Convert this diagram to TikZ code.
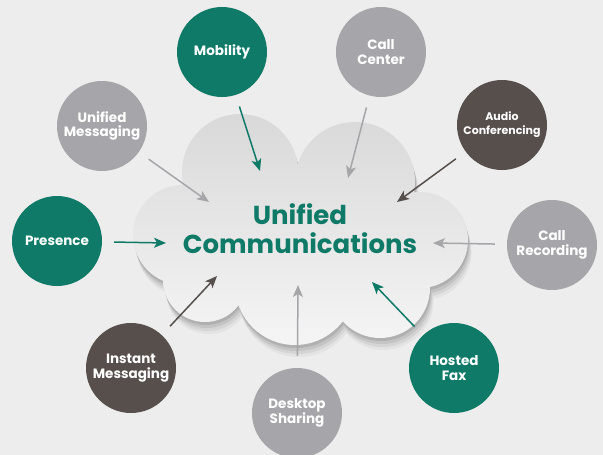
\documentclass[tikz,border=0pt]{standalone}
\usepackage{fontspec}
\setmainfont{Poppins}
\usetikzlibrary{arrows.meta}

\definecolor{ucteal}{HTML}{0E7A67}
\definecolor{ucgray}{HTML}{A6A5A9}
\definecolor{ucbrown}{HTML}{574F4B}
\definecolor{paper}{HTML}{EDEDED}

% outline of the cloud (union of lobes)
\newcommand\cloudpath{%
  (240,172) circle (58) (355,182) circle (60)
  (183,235) circle (50) (420,240) circle (48)
  (205,280) circle (42) (295,285) circle (60)
  (380,288) circle (50) (300,235) ellipse (130 and 65)}

\begin{document}
\begin{tikzpicture}[
    x=1pt, y=-1pt,
    topic/.style={circle, minimum size=90pt, inner sep=0pt, align=center, text=white,
      font=\bfseries\fontsize{13.5}{14.5}\selectfont},
    small/.style={font=\bfseries\fontsize{11}{14}\selectfont},
    link/.style={line width=1.5pt, -{Stealth[length=12pt, width=10pt, inset=3pt]}, shorten <=12pt}
  ]
    \useasboundingbox (0,0) rectangle (603,455);
    \clip (0,0) rectangle (603,455);

    % paper background
    \fill[paper] (0,0) rectangle (603,455);

    % cloud: soft shadow, then the cloud itself
    \foreach \s/\o in {12/0.04, 9/0.06, 6/0.08, 3/0.1} {
      \fill[black, opacity=\o, shift={(\s*0.3,\s)}] \cloudpath;
    }
    \shade[top color=gray!30, bottom color=gray!8] \cloudpath;

    \node[text=ucteal, align=center, font=\bfseries\fontsize{26}{29}\selectfont] (uc) at (300,229)
      {Unified\\Communications};

    % topics round the cloud
    \node[topic, fill=ucteal]  (mob)     at (222,52)  {Mobility};
    \node[topic, fill=ucgray]  (callc)   at (381,52)  {Call\\Center};
    \node[topic, fill=ucbrown, small] (audio) at (502,125) {Audio\\Conferencing};
    \node[topic, fill=ucgray]  (unimsg)  at (102,126) {Unified\\Messaging};
    \node[topic, fill=ucteal]  (pres)    at (57,241)  {Presence};
    \node[topic, fill=ucgray]  (callrec) at (552,245) {Call\\Recording};
    \node[topic, fill=ucbrown] (instmsg) at (131,368) {Instant\\Messaging};
    \node[topic, fill=ucgray]  (desk)    at (297,413) {Desktop\\Sharing};
    \node[topic, fill=ucteal]  (fax)     at (454,368) {Hosted\\Fax};

    % arrow tips inside the cloud
    \coordinate (mobE)     at (260,171);
    \coordinate (callcE)   at (348,178);
    \coordinate (audioE)   at (397,202);
    \coordinate (unimsgE)  at (209,202);
    \coordinate (presE)    at (166,243);
    \coordinate (callrecE) at (433,243);
    \coordinate (instmsgE) at (217,276);
    \coordinate (deskE)    at (298,285);
    \coordinate (faxE)     at (372,282);

    \draw[link, ucteal]  (mob) -- (mobE);
    \draw[link, ucgray]  (callc) -- (callcE);
    \draw[link, ucbrown] (audio) -- (audioE);
    \draw[link, ucgray]  (unimsg) -- (unimsgE);
    \draw[link, ucteal]  (pres) -- (presE);
    \draw[link, ucgray]  (callrec) -- (callrecE);
    \draw[link, ucbrown] (instmsg) -- (instmsgE);
    \draw[link, ucgray]  (desk) -- (deskE);
    \draw[link, ucteal]  (fax) -- (faxE);

\end{tikzpicture}
\end{document}
